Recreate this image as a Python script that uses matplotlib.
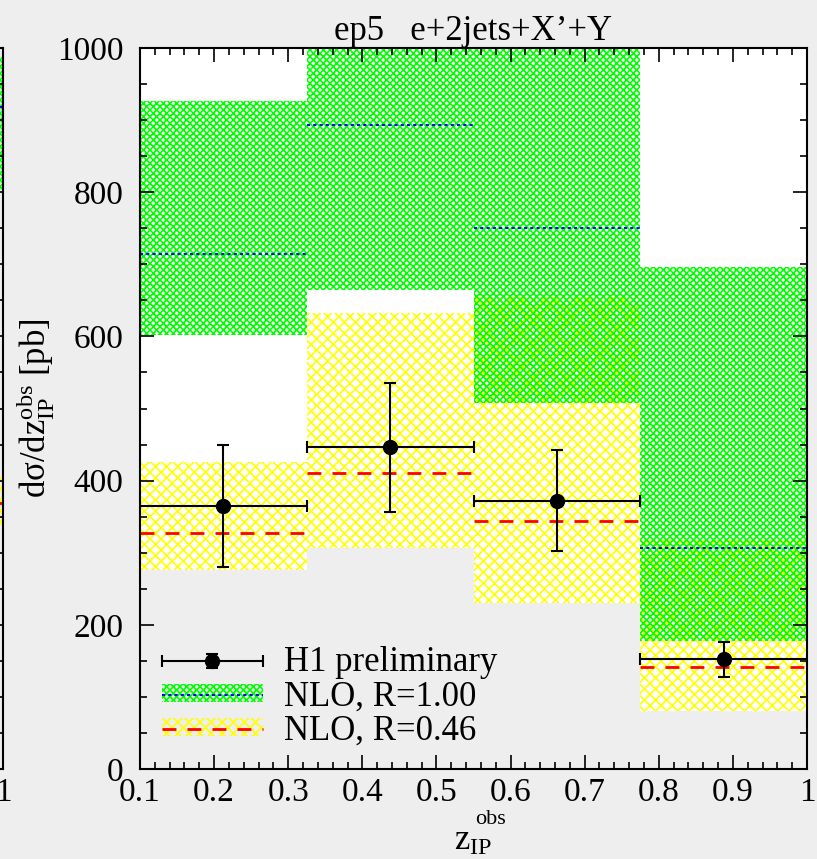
import numpy as np
import matplotlib
matplotlib.use('Agg')
import matplotlib.pyplot as plt
from matplotlib.patches import Patch
from matplotlib.lines import Line2D
from matplotlib.legend_handler import HandlerErrorbar

# bin edges in z_IP^obs
bin_edges = [0.1, 0.325, 0.55, 0.775, 1.0]

# NLO, R=1.00 (green band)
nlo100_lo = [602, 664, 508, 178]
nlo100_hi = [926, 1100, 1100, 696]
nlo100_c = [714, 893, 750, 306]

# NLO, R=0.46 (yellow band)
nlo046_lo = [276, 306, 230, 80]
nlo046_hi = [426, 632, 655, 318]
nlo046_c = [327, 410, 344, 141]

# H1 preliminary
h1_x = [0.212, 0.437, 0.663, 0.888]
h1_y = [365, 446, 372, 152]
h1_err = [85, 90, 70, 24]

# neighbouring panel (only a sliver is visible at the left edge)
left_edges = [0.775, 1.0]
left_nlo100 = (803, 987, 918)
left_nlo046 = (336, 405, 369)

YMAX = 1000

plt.rcParams['font.family'] = ['Liberation Serif', 'DejaVu Serif']
plt.rcParams['mathtext.fontset'] = 'custom'
plt.rcParams['mathtext.rm'] = 'Liberation Serif'
plt.rcParams['mathtext.it'] = 'Liberation Serif'
plt.rcParams['mathtext.default'] = 'rm'
plt.rcParams['hatch.linewidth'] = 1.2

BG = '#eeeeee'
GREEN, YELLOW = '#00ff00', '#ffff00'
FS = 24

W, H = 817, 859
fig = plt.figure(figsize=(W / 100, H / 100), dpi=100, facecolor=BG)


def style_axes(ax):
    ax.set_facecolor('none')
    for s in ax.spines.values():
        s.set_linewidth(1.5)
    ax.set_ylim(0, YMAX)
    ax.set_yticks(np.arange(0, 1001, 200))
    ax.set_yticks(np.arange(0, 1001, 50), minor=True)
    ax.set_xticks(np.round(np.arange(0.1, 1.01, 0.1), 1))
    ax.set_xticks(np.arange(0.1, 1.001, 0.02), minor=True)
    ax.tick_params(which='both', direction='in', top=True, right=True, width=1.2)
    ax.tick_params(which='major', length=10)
    ax.tick_params(which='minor', length=5)
    ax.tick_params(axis='x', labelsize=FS, pad=6)
    ax.tick_params(axis='y', labelsize=FS, pad=12)
    ax.set_xticklabels(['0.1', '0.2', '0.3', '0.4', '0.5', '0.6', '0.7', '0.8', '0.9', '1'])


# --- partial neighbouring panel at the far left
axl = fig.add_axes([(3 - 667) / W, 1 - 769 / H, 667 / W, 721 / H])
style_axes(axl)
axl.set_xlim(0.1, 1.0)
axl.set_yticklabels([])
axl.fill_between(left_edges, left_nlo046[0], left_nlo046[1], facecolor='none',
                 edgecolor=YELLOW, hatch='xxx', linewidth=0)
axl.fill_between(left_edges, left_nlo100[0], left_nlo100[1], facecolor='none',
                 edgecolor=GREEN, hatch='xxxxx', linewidth=0)
axl.hlines(left_nlo100[2], *left_edges, colors='blue', linestyles=(0, (1.5, 1.5)), lw=1.5)
axl.hlines(left_nlo046[2], *left_edges, colors='red', linestyles=(0, (5, 4)), lw=2)

# --- main panel
ax = fig.add_axes([140 / W, 1 - 769 / H, 667 / W, 721 / H])
style_axes(ax)
ax.set_xlim(0.1, 1.0)

lefts = np.array(bin_edges[:-1])
widths = np.diff(bin_edges)

# white fill above the lower band edge
ax.bar(lefts, YMAX - np.array(nlo046_lo), bottom=nlo046_lo, width=widths,
       align='edge', color='white', linewidth=0, zorder=0.5)
ax.bar(lefts, np.array(nlo046_hi) - np.array(nlo046_lo), bottom=nlo046_lo, width=widths,
       align='edge', facecolor='none', edgecolor=YELLOW, hatch='xxx', linewidth=0, zorder=1)
ax.bar(lefts, np.array(nlo100_hi) - np.array(nlo100_lo), bottom=nlo100_lo, width=widths,
       align='edge', facecolor='none', edgecolor=GREEN, hatch='xxxxx', linewidth=0, zorder=1.1)

ax.hlines(nlo100_c, bin_edges[:-1], bin_edges[1:], colors='blue',
          linestyles=(0, (1.5, 1.5)), lw=1.5, zorder=2)
ax.hlines(nlo046_c, bin_edges[:-1], bin_edges[1:], colors='red',
          linestyles=(0, (5, 4)), lw=2, zorder=2)

xerr = [np.array(h1_x) - lefts, np.array(bin_edges[1:]) - np.array(h1_x)]
eb = ax.errorbar(h1_x, h1_y, yerr=h1_err, xerr=xerr, fmt='o', color='black',
                 ms=10, elinewidth=1.5, capsize=4.5, capthick=1.5, zorder=3)

h_green = (Patch(facecolor='none', edgecolor=GREEN, hatch='xxxxx', linewidth=0),
           Line2D([], [], color='blue', ls=(0, (1.5, 1.5)), lw=1.5))
h_yellow = (Patch(facecolor='none', edgecolor=YELLOW, hatch='xxx', linewidth=0),
            Line2D([], [], color='red', ls=(0, (5, 4)), lw=2))
LFS = 25
HL = 2.9
ax.legend([eb, h_green, h_yellow], ['H1 preliminary', 'NLO, R=1.00', 'NLO, R=0.46'],
          loc='lower left', bbox_to_anchor=(0.033, 0.03), frameon=False, fontsize=LFS,
          handlelength=HL, handleheight=0.4, labelspacing=0.03, handletextpad=0.6,
          borderpad=0, borderaxespad=0,
          handler_map={type(eb): HandlerErrorbar(xerr_size=HL / 2, yerr_size=0.2)})

ax.set_title('ep5   e+2jets+X\u2019+Y', fontsize=25, pad=4)
ax.set_ylabel('d\u03c3/dz$_{\\mathrm{IP}}^{\\mathrm{obs}}$ [pb]', fontsize=25, labelpad=0)
ax.set_xlabel('z$_{\\mathrm{IP}}$', fontsize=25, labelpad=12)
fig.text(491 / W, 1 - 820 / H, 'obs', fontsize=16, ha='center', va='center')

fig.savefig('out.png', dpi=100, facecolor=BG)
